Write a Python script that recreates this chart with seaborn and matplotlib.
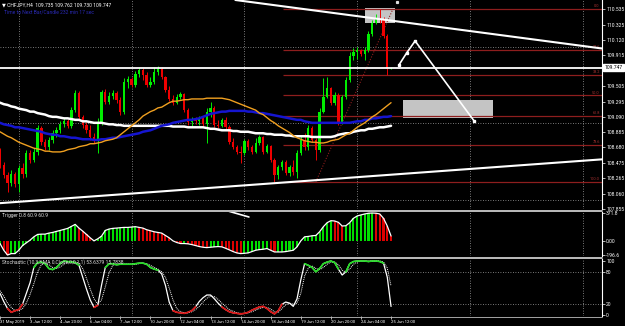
import numpy as np
import pandas as pd
import matplotlib
matplotlib.use("Agg")
import matplotlib.pyplot as plt
import seaborn as sns
from matplotlib.lines import Line2D
from matplotlib.patches import Rectangle
from matplotlib.transforms import blended_transform_factory

sns.set_theme(style="dark", rc={"axes.facecolor": "black", "figure.facecolor": "black",
                               "axes.grid": False})
plt.rcParams['font.family'] = ['Roboto', 'DejaVu Sans']

# ---------------- data (CHFJPY H4) ----------------
first_open = 108.65
close = [108.45,108.31,108.20,108.32,108.19,108.41,108.32,108.61,108.51,108.62,
         108.94,108.75,108.69,108.78,108.87,108.91,108.99,109.04,108.97,109.18,
         109.41,109.09,108.98,108.91,108.82,108.78,109.02,109.42,109.29,109.37,
         109.41,109.32,109.16,109.56,109.60,109.52,109.66,109.72,109.65,109.52,
         109.56,109.69,109.73,109.62,109.45,109.33,109.28,109.36,109.40,109.18,
         109.02,109.06,109.04,109.07,108.99,109.16,109.21,108.98,108.97,109.05,
         108.95,108.75,108.69,108.62,108.61,108.77,108.69,108.62,108.74,108.82,
         108.62,108.70,108.51,108.31,108.42,108.49,108.34,108.42,108.35,108.61,
         108.78,108.69,108.94,108.78,108.65,109.16,109.36,109.48,109.28,109.38,
         109.02,109.36,109.58,109.91,109.96,109.99,109.93,109.99,110.20,110.35,
         110.41,110.39,110.17,109.735,109.747]
high = [108.67,108.49,108.35,108.38,108.35,108.45,108.47,108.65,108.65,108.67,
        108.98,108.97,108.79,108.82,108.91,108.95,109.04,109.08,109.06,109.22,
        109.45,109.44,109.12,109.02,108.98,108.87,109.08,109.45,109.46,109.42,
        109.45,109.44,109.36,109.61,109.64,109.62,109.70,109.75,109.75,109.69,
        109.62,109.76,109.77,109.76,109.64,109.50,109.38,109.40,109.42,109.41,
        109.21,109.09,109.09,109.10,109.10,109.21,109.29,109.24,109.05,109.07,
        109.09,108.98,108.81,108.71,108.70,108.79,108.79,108.71,108.81,108.85,
        108.83,108.73,108.71,108.54,108.45,108.51,108.51,108.45,108.51,108.65,
        108.83,108.87,108.98,108.97,108.81,109.21,109.61,109.62,109.49,109.42,
        109.41,109.38,109.62,109.96,110.01,110.03,110.00,110.03,110.24,110.39,
        110.47,110.535,110.43,110.20,109.762]
low = [108.41,108.27,108.08,108.16,108.15,108.08,108.27,108.28,108.47,108.49,
       108.58,108.71,108.65,108.65,108.74,108.82,108.87,108.95,108.94,108.94,
       109.16,109.05,108.94,108.87,108.78,108.74,108.61,108.98,109.26,109.26,
       109.33,109.28,109.12,109.13,109.48,109.49,109.49,109.62,109.58,109.49,
       109.49,109.53,109.65,109.60,109.42,109.30,109.25,109.26,109.33,109.16,
       108.98,108.97,108.99,108.98,108.97,108.74,109.09,108.95,108.94,108.95,
       108.93,108.73,108.66,108.59,108.47,108.58,108.65,108.59,108.61,108.71,
       108.59,108.61,108.49,108.22,108.26,108.38,108.31,108.30,108.31,108.27,
       108.58,108.65,108.65,108.75,108.51,108.62,109.14,109.34,109.25,109.25,
       108.98,108.99,109.33,109.56,109.85,109.87,109.91,109.85,109.96,110.17,
       110.33,110.35,110.15,109.65,109.730]

ma_orange = [108.89,108.86,108.83,108.81,108.78,108.75,108.73,108.71,108.69,108.67,
             108.66,108.65,108.63,108.63,108.62,108.62,108.62,108.63,108.65,108.66,
             108.67,108.69,108.70,108.71,108.73,108.73,108.74,108.75,108.77,108.78,
             108.79,108.81,108.85,108.89,108.93,108.97,109.01,109.05,109.10,109.13,
             109.16,109.18,109.21,109.22,109.25,109.28,109.30,109.30,109.31,109.32,
             109.32,109.33,109.33,109.33,109.33,109.34,109.34,109.34,109.34,109.34,
             109.33,109.32,109.30,109.28,109.26,109.24,109.22,109.20,109.18,109.14,
             109.12,109.08,109.04,109.01,108.97,108.94,108.91,108.88,108.84,108.81,
             108.79,108.77,108.76,108.75,108.75,108.74,108.74,108.75,108.77,108.78,
             108.79,108.82,108.85,108.87,108.91,108.95,108.98,109.01,109.05,109.09,
             109.12,109.16,109.20,109.24,109.28]
ma_blue = [109.01,108.99,108.98,108.97,108.95,108.95,108.94,108.93,108.92,108.91,
           108.90,108.89,108.87,108.86,108.85,108.85,108.83,108.83,108.82,108.81,
           108.81,108.80,108.79,108.79,108.79,108.78,108.78,108.79,108.79,108.80,
           108.81,108.81,108.82,108.83,108.84,108.85,108.86,108.87,108.89,108.90,
           108.91,108.93,108.95,108.97,108.98,108.99,109.01,109.02,109.03,109.04,
           109.05,109.05,109.06,109.07,109.09,109.11,109.13,109.14,109.15,109.16,
           109.16,109.17,109.17,109.17,109.17,109.17,109.16,109.16,109.15,109.14,
           109.14,109.13,109.12,109.11,109.10,109.09,109.08,109.07,109.06,109.05,
           109.05,109.03,109.02,109.01,109.01,109.01,109.01,109.01,109.01,109.01,
           109.01,109.01,109.01,109.01,109.02,109.03,109.03,109.05,109.05,109.07,
           109.07,109.08,109.09,109.09,109.10]
ma_white = [109.28,109.26,109.25,109.23,109.22,109.20,109.19,109.18,109.16,109.16,
            109.14,109.13,109.12,109.10,109.09,109.09,109.08,109.07,109.07,109.06,
            109.05,109.05,109.03,109.03,109.02,109.01,109.01,109.01,109.00,108.99,
            108.99,108.98,108.98,108.97,108.97,108.97,108.97,108.97,108.97,108.97,
            108.97,108.97,108.97,108.97,108.97,108.97,108.96,108.96,108.96,108.96,
            108.95,108.95,108.95,108.95,108.95,108.94,108.93,108.93,108.92,108.91,
            108.91,108.91,108.90,108.90,108.89,108.89,108.89,108.88,108.87,108.87,
            108.87,108.86,108.86,108.85,108.85,108.85,108.84,108.84,108.83,108.83,
            108.83,108.83,108.83,108.82,108.82,108.82,108.82,108.82,108.82,108.83,
            108.85,108.86,108.87,108.87,108.89,108.90,108.91,108.91,108.93,108.93,
            108.94,108.95,108.95,108.96,108.97]

trigger = [-41,-132,-196.6,-177,-177,-132,-68,-32,5,50,
           82,86,86,100,109,123,136,150,164,191,
           218,168,127,82,36,-5,23,59,136,155,
           164,168,173,177,177,182,187,177,168,146,
           132,118,109,100,68,36,-5,-27,-41,-41,
           -45,-55,-68,-82,-91,-96,-91,-86,-82,-86,
           -105,-127,-150,-168,-177,-173,-168,-150,-132,-123,
           -118,-109,-132,-155,-155,-155,-150,-141,-132,-86,
           -5,50,55,64,68,118,187,241,268,264,
           246,196,200,241,300,332,346,359,369,371.8,
           369,359,300,196,60.9]
stoch_k = [40,25,12,5,8,10,20,40,60,88,
           97,98,95,86,84,88,95,100,99,98,
           97,92,70,48,28,14,18,55,88,95,
           95,93,94,94,94,94,95,96,96,94,
           88,85,83,76,55,24,8,5,4,3,
           5,8,15,25,32,37,37,30,22,15,
           10,6,4,3,2,3,5,9,12,15,
           16,12,6,2,8,20,24,22,16,30,
           65,95,92,88,80,86,95,98,100,97,
           85,74,80,95,99,100,100,100,99,100,
           100,99,96,70,15.78]
stoch_d = [45,35,22,14,8,8,12,22,38,58,
           80,93,96,93,88,86,89,94,98,99,
           98,96,86,68,48,30,20,28,52,78,
           92,94,94,94,94,94,94,95,96,95,
           92,88,85,80,70,50,28,12,6,4,
           4,6,10,16,24,31,35,34,29,22,
           16,10,7,4,3,3,4,6,9,12,
           14,14,11,6,5,12,19,22,20,22,
           40,72,87,91,86,84,88,94,98,98,
           93,83,79,85,94,98,100,100,100,100,
           100,100,98,87,53.64]

date_bars = [0, 8, 16, 24, 32, 40, 48, 56, 64, 72, 80, 88, 96, 104]
date_labels = ["31 May 2019", "3 Jun 12:00", "4 Jun 20:00", "6 Jun 04:00", "7 Jun 12:00",
               "10 Jun 20:00", "12 Jun 04:00", "13 Jun 12:00", "14 Jun 20:00",
               "18 Jun 04:00", "19 Jun 12:00", "20 Jun 20:00", "24 Jun 04:00", "25 Jun 12:00"]
price_ticks = [110.535, 110.325, 110.120, 109.915, 109.505, 109.295, 109.090,
               108.885, 108.680, 108.475, 108.265, 108.060, 107.855]
last_price = 109.747

# drawn objects (bar index, price)
upper_trend = ([80, 104], [110.54, 110.38])
lower_trend = ([10, 100], [107.97, 108.30])
fib_high, fib_low = 110.535, 108.22
fib_levels = [0.0, 23.6, 38.2, 50.0, 61.8, 78.6, 100.0]
fib_start = 75.3
fib_diag = ([84, 104.5], [108.22, 110.535])
box_top = (97.1, 105.0, 110.35, 110.55)
box_right = (107.2, 131.1, 109.075, 109.316)
proj_bars = [106.1, 108.2, 110.4, 126.1]
proj_prices = [109.785, 109.95, 110.107, 109.035]
top_dot = (105.6, 110.63)
trig_note = ([60.9, 66.2], [395, 318])
week_grid = [5, 35, 65, 95, 125, 155]
price_grid = [110.03, 109.01, 107.98]

# ---------------- figure ----------------
W, H = 625, 326
fig = plt.figure(figsize=(W / 100, H / 100), dpi=100)
fig.patch.set_facecolor('black')
AXW = 602
PXB = 3.76
xlim = (0, AXW / PXB)
n = len(close)
idx = np.arange(n)
close_a = np.array(close)
open_a = np.array([first_open] + close[:-1])
high_a = np.array(high)
low_a = np.array(low)

GRID = dict(color='#A0A0A0', lw=0.6, ls=(0, (1, 2)), zorder=0.6)
FS = 3.6


def make_ax(top, bottom):
    ax = fig.add_axes([0, 1 - bottom / H, AXW / W, (bottom - top) / H])
    ax.set_facecolor('black')
    ax.set_xlim(*xlim)
    for s in ['top', 'left', 'bottom']:
        ax.spines[s].set_visible(False)
    ax.spines['right'].set_visible(True)
    ax.spines['right'].set_color('white')
    ax.spines['right'].set_linewidth(0.8)
    ax.yaxis.tick_right()
    ax.tick_params(axis='y', right=True, labelright=True, left=False, labelleft=False,
                   colors='white', labelsize=FS, length=2, width=0.5, pad=1, direction='out')
    ax.tick_params(axis='x', bottom=False, labelbottom=False)
    for g in week_grid:
        ax.axvline(g, **GRID)
    ax.set_xlabel('')
    ax.set_ylabel('')
    return ax


# ---- main price panel ----
ax = make_ax(0, 209)
ax.set_ylim(107.855, 110.656)
for g in price_grid:
    ax.axhline(g, **GRID)

# boxes
for b in (box_top, box_right):
    ax.add_patch(Rectangle((b[0], b[2]), b[1] - b[0], b[3] - b[2], fc='#C4C4C4', ec='none', zorder=1))

# fibonacci
fib_col = '#8E1E1E'
fib_prices = [fib_high - lv / 100 * (fib_high - fib_low) for lv in fib_levels]
ax.hlines(fib_prices, fib_start, xlim[1], color=fib_col, lw=0.9, zorder=1.5)
for lv, p in zip(fib_levels, fib_prices):
    ax.text(xlim[1] - 0.6, p + 0.01, f"{lv:.1f}", color='#A83232', fontsize=2.8,
            ha='right', va='bottom', zorder=2)
ax.plot(fib_diag[0], fib_diag[1], color=fib_col, lw=0.8, ls=(0, (1, 1.5)), zorder=1.6)

# candles
up = close_a >= open_a
ccol = np.where(up, '#00EE00', '#EE0000')
ax.vlines(idx, low_a, high_a, colors=ccol, lw=0.7, zorder=3)
bottom = np.minimum(open_a, close_a)
height = np.maximum(np.abs(close_a - open_a), 0.008)
ax.bar(idx, height, bottom=bottom, width=0.62, color=ccol, lw=0, zorder=4)

# moving averages
sns.lineplot(x=idx, y=ma_white, ax=ax, color='white', lw=1.8, legend=False, zorder=5)
sns.lineplot(x=idx, y=ma_blue, ax=ax, color='#1515D0', lw=1.8, legend=False, zorder=5)
sns.lineplot(x=idx, y=ma_orange, ax=ax, color='#F0A020', lw=1.0, legend=False, zorder=5)

# trend lines & current price
ax.axline((upper_trend[0][0], upper_trend[1][0]), (upper_trend[0][1], upper_trend[1][1]),
          color='white', lw=1.5, zorder=6)
ax.axline((lower_trend[0][0], lower_trend[1][0]), (lower_trend[0][1], lower_trend[1][1]),
          color='white', lw=1.5, zorder=6)
ax.axhline(last_price, color='white', lw=1.3, zorder=6)
ax.plot(proj_bars, proj_prices, color='white', lw=1.2, marker='s', ms=1.8, zorder=7)
ax.plot([top_dot[0]], [top_dot[1]], marker='s', ms=1.3, color='#DDDDDD', zorder=7)

ax.set_yticks(price_ticks)
ax.set_yticklabels([f"{p:.3f}" for p in price_ticks])
ax.set_xlabel('')
ax.set_ylabel('')
ax.set_xlim(*xlim)
ax.set_ylim(107.855, 110.656)
trans = blended_transform_factory(ax.transAxes, ax.transData)
ax.text(1.004, last_price, f"{last_price:.3f}", transform=trans, ha='left', va='center',
        fontsize=FS, color='black', zorder=10, clip_on=False,
        bbox=dict(boxstyle='square,pad=0.22', fc='white', ec='white'))

# ---- trigger panel ----
axt = make_ax(212, 256)
tr = np.array(trigger)
tcol = ['#00DD00' if (i == 0 or tr[i] >= tr[i - 1]) else '#DD0000' for i in range(n)]
axt.bar(idx, tr, width=0.55, color=tcol, lw=0, zorder=3)
sns.lineplot(x=idx, y=trigger, ax=axt, color='white', lw=0.9, legend=False, zorder=4)
axt.plot(trig_note[0], trig_note[1], color='white', lw=1.2, zorder=5)
axt.set_ylim(-209.7, 385.6)
axt.set_xlim(*xlim)
axt.set_yticks([371.8, 0, -196.6])
axt.set_yticklabels(['371.8', '0.00', '-196.6'])
axt.set_xlabel('')
axt.set_ylabel('')

# ---- stochastic panel ----
axs = make_ax(259, 316)
axs.axhline(80, **GRID)
axs.axhline(20, **GRID)
k = np.array(stoch_k, dtype=float)
sns.lineplot(x=idx, y=stoch_d, ax=axs, color='white', lw=0.7, legend=False, zorder=3)
axs.lines[-1].set_linestyle((0, (1, 1)))
sns.lineplot(x=idx, y=stoch_k, ax=axs, color='white', lw=0.9, legend=False, zorder=4)
axs.plot(idx, np.where(k >= 80, k, np.nan), color='#22DD22', lw=1.2, zorder=5)
axs.plot(idx, np.where(k <= 20, k, np.nan), color='#DD1111', lw=1.2, zorder=5)
axs.set_ylim(-1.85, 103.7)
axs.set_xlim(*xlim)
axs.set_yticks([100, 80, 20, 0])
axs.set_yticklabels(['100', '80', '20', '0'])
axs.set_xticks(date_bars)
axs.set_xticklabels(date_labels, ha='left')
axs.tick_params(axis='x', bottom=True, labelbottom=True, colors='white', labelsize=3.1,
                length=2, width=0.5, pad=1, direction='out')
axs.set_xlabel('')
axs.set_ylabel('')

# separators
for yy in (210.5, 257.5):
    fig.add_artist(Line2D([0, AXW / W], [1 - yy / H, 1 - yy / H], color='#BDBDBD', lw=1.4))
fig.add_artist(Line2D([0, AXW / W], [1 - 316.5 / H, 1 - 316.5 / H], color='#BDBDBD', lw=0.6))

# texts
fig.text(2 / W, 1 - 4.5 / H, "\u25bc CHFJPY,H4  109.735 109.762 109.730 109.747", color='white',
         fontsize=FS, ha='left', va='center', family=['Roboto', 'DejaVu Sans'])
fig.text(4 / W, 1 - 11.5 / H, "Time to Next Bar/Candle 232 min 17 sec", color='#2A2AB4',
         fontsize=FS, ha='left', va='center')
fig.text(2 / W, 1 - 216 / H, "Trigger 0.8 60.9 60.9", color='#DDDDDD', fontsize=FS,
         ha='left', va='center')
fig.text(2 / W, 1 - 262.5 / H, "Stochastic (10,3,3,MA 0,Close,0,0,1,1) 53.6379 15.7838",
         color='#DDDDDD', fontsize=FS, ha='left', va='center')

fig.savefig('out.png', dpi=100, facecolor='black')
